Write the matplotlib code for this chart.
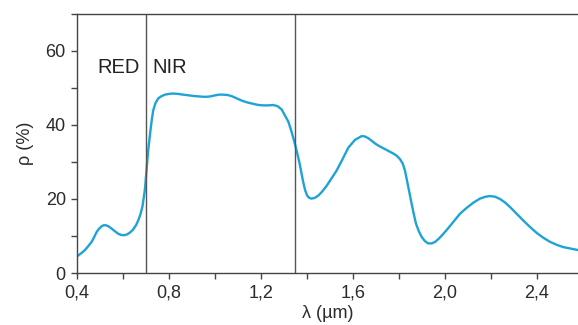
import matplotlib
matplotlib.use('Agg')
import matplotlib.pyplot as plt
from matplotlib.ticker import MultipleLocator, FuncFormatter

# wavelength (um) and reflectance (%)
wl = [0.403, 0.420, 0.435, 0.450, 0.464, 0.476, 0.486, 0.497, 0.507, 0.516,
      0.526, 0.538, 0.551, 0.565, 0.580, 0.592, 0.604, 0.617, 0.630, 0.644,
      0.657, 0.668, 0.677, 0.685, 0.691, 0.696, 0.700, 0.705, 0.710, 0.715,
      0.720, 0.726, 0.732, 0.742, 0.754, 0.768, 0.783, 0.800, 0.819, 0.840,
      0.862, 0.888, 0.913, 0.935, 0.957, 0.978, 1.000, 1.018, 1.036, 1.055,
      1.073, 1.095, 1.116, 1.140, 1.167, 1.190, 1.210, 1.232, 1.253, 1.272,
      1.290, 1.304, 1.319, 1.333, 1.348, 1.358, 1.367, 1.376, 1.384, 1.392,
      1.401, 1.410, 1.420, 1.434, 1.449, 1.466, 1.486, 1.507, 1.529, 1.555,
      1.580, 1.609, 1.638, 1.652, 1.667, 1.682, 1.696, 1.714, 1.732, 1.754,
      1.775, 1.790, 1.804, 1.816, 1.826, 1.833, 1.840, 1.848, 1.855, 1.864,
      1.874, 1.886, 1.899, 1.913, 1.927, 1.942, 1.957, 1.975, 1.993, 2.015,
      2.036, 2.065, 2.094, 2.123, 2.152, 2.175, 2.196, 2.218, 2.239, 2.260,
      2.283, 2.310, 2.340, 2.370, 2.399, 2.428, 2.457, 2.486, 2.514, 2.545,
      2.578]
refl = [4.6, 5.4, 6.2, 7.3, 8.4, 9.8, 11.1, 12.0, 12.6, 12.9,
        12.9, 12.6, 12.0, 11.3, 10.6, 10.3, 10.2, 10.4, 10.9, 11.7,
        12.9, 14.4, 16.0, 18.0, 20.5, 22.8, 25.9, 29.5, 33.2, 36.0,
        38.6, 41.6, 44.0, 46.0, 47.2, 47.8, 48.2, 48.4, 48.5, 48.4,
        48.2, 48.0, 47.8, 47.7, 47.6, 47.7, 48.0, 48.2, 48.2, 48.1,
        47.8, 47.2, 46.6, 46.1, 45.7, 45.4, 45.3, 45.3, 45.4, 45.1,
        44.2, 42.6, 40.9, 38.2, 34.8, 32.3, 29.9, 27.1, 24.5, 22.4,
        20.9, 20.3, 20.1, 20.3, 20.9, 22.0, 23.6, 25.6, 27.7, 30.8,
        33.9, 36.0, 37.0, 36.9, 36.4, 35.7, 35.0, 34.3, 33.7, 33.0,
        32.3, 31.7, 30.8, 29.6, 27.7, 25.5, 23.2, 20.9, 18.7, 16.0,
        13.3, 11.3, 9.7, 8.6, 8.0, 8.0, 8.4, 9.4, 10.6, 12.2,
        13.8, 16.0, 17.6, 19.0, 20.1, 20.6, 20.8, 20.6, 20.0, 19.1,
        17.8, 16.1, 14.2, 12.4, 10.8, 9.5, 8.4, 7.6, 7.0, 6.6,
        6.2]
band_edges = [0.70, 1.35]
band_labels = ['RED', 'NIR']

plt.rcParams['font.family'] = ['Liberation Sans', 'DejaVu Sans']
txt = '#2b2b2b'

fig = plt.figure(figsize=(5.78, 3.25), dpi=100)
ax = fig.add_axes([0.133, 0.16, 0.867, 0.797])

ax.plot(wl, refl, color='#1fa3d6', linewidth=1.7, solid_capstyle='round',
        solid_joinstyle='round')
for e in band_edges:
    ax.axvline(e, color='#555555', linewidth=1.0)

ax.text(0.674, 55.6, band_labels[0], ha='right', va='center', fontsize=14.5, color='#222222')
ax.text(0.728, 55.6, band_labels[1], ha='left', va='center', fontsize=14.5, color='#222222')

ax.set_xlim(0.4, 2.578)
ax.set_ylim(0, 70)
ax.xaxis.set_major_locator(MultipleLocator(0.4))
ax.xaxis.set_minor_locator(MultipleLocator(0.2))
ax.yaxis.set_major_locator(MultipleLocator(20))
ax.yaxis.set_minor_locator(MultipleLocator(10))
ax.xaxis.set_major_formatter(FuncFormatter(lambda v, p: f'{v:.1f}'.replace('.', ',')))

for s in ['left', 'bottom', 'top']:
    ax.spines[s].set_color('#444444')
    ax.spines[s].set_linewidth(1.0)
ax.spines['right'].set_visible(False)

ax.tick_params(which='both', direction='out', length=4, width=1, color='#444444',
               labelsize=13, labelcolor=txt)
ax.tick_params(axis='x', pad=4)
ax.tick_params(axis='y', pad=4)

ax.set_ylabel('ρ (%)', fontsize=13, color=txt, labelpad=8)
ax.set_xlabel('λ (µm)', fontsize=13, color=txt, labelpad=3)

fig.savefig('out.png', dpi=100)
